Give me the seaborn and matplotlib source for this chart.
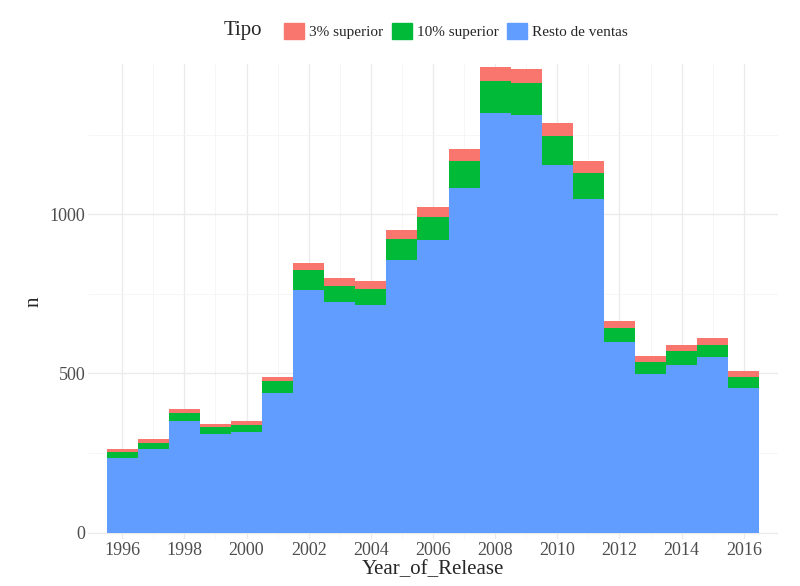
import numpy as np
import pandas as pd
import matplotlib
matplotlib.use("Agg")
import matplotlib.pyplot as plt
import seaborn as sns
from matplotlib.patches import Patch

years = list(range(1996, 2017))
resto = [235, 263, 351, 310, 317, 439, 762, 724, 715, 856, 918, 1081, 1317, 1310,
         1154, 1047, 599, 498, 527, 552, 455]
top10 = [19, 19, 25, 22, 22, 37, 62, 50, 50, 66, 73, 85, 100, 101,
         91, 82, 44, 38, 44, 37, 34]
top3 = [9, 13, 13, 10, 12, 13, 22, 25, 25, 28, 31, 38, 44, 44,
        40, 37, 22, 19, 18, 22, 19]
tipos = ["3% superior", "10% superior", "Resto de ventas"]
colores = ["#F8766D", "#00BA38", "#619CFF"]

df = pd.DataFrame({
    "Year_of_Release": years * 3,
    "n": top3 + top10 + resto,
    "Tipo": [tipos[0]] * len(years) + [tipos[1]] * len(years) + [tipos[2]] * len(years),
})

sns.set_theme(style="whitegrid")
plt.rcParams["font.family"] = ["Liberation Serif", "DejaVu Serif"]

fig, ax = plt.subplots(figsize=(8, 5.86), dpi=100)
sns.histplot(data=df, x="Year_of_Release", weights="n", hue="Tipo", hue_order=tipos,
             palette=dict(zip(tipos, colores)), multiple="stack", discrete=True,
             alpha=1, linewidth=0, legend=False, ax=ax)

ax.set_xticks(range(1996, 2017, 2))
ax.set_xticks(range(1997, 2017, 2), minor=True)
ax.set_yticks([0, 500, 1000])
ax.set_yticks([250, 750, 1250], minor=True)
ax.grid(True, which="major", color="#EBEBEB", linewidth=1)
ax.grid(True, which="minor", color="#F5F5F5", linewidth=0.6)
ax.set_axisbelow(True)
for s in ax.spines.values():
    s.set_visible(False)
ax.set_xlim(1994.9, 2017.1)
ax.set_ylim(-20, 1470)
ax.tick_params(axis="both", labelsize=13, colors="#4D4D4D", length=0, pad=2)
ax.set_xlabel("Year_of_Release", fontsize=15, labelpad=1)
ax.set_ylabel("n", fontsize=15)

handles = [Patch(color=c, label=t) for t, c in zip(tipos, colores)]
fig.legend(handles=handles, loc="upper center", bbox_to_anchor=(0.57, 0.985), ncol=3,
           frameon=False, fontsize=11, handlelength=1.3, handleheight=1.3,
           columnspacing=0.6, handletextpad=0.3)
fig.text(0.28, 0.948, "Tipo", fontsize=15, va="center")

fig.subplots_adjust(left=0.11, right=0.9725, top=0.89, bottom=0.08)
fig.savefig("out.png", dpi=100)
